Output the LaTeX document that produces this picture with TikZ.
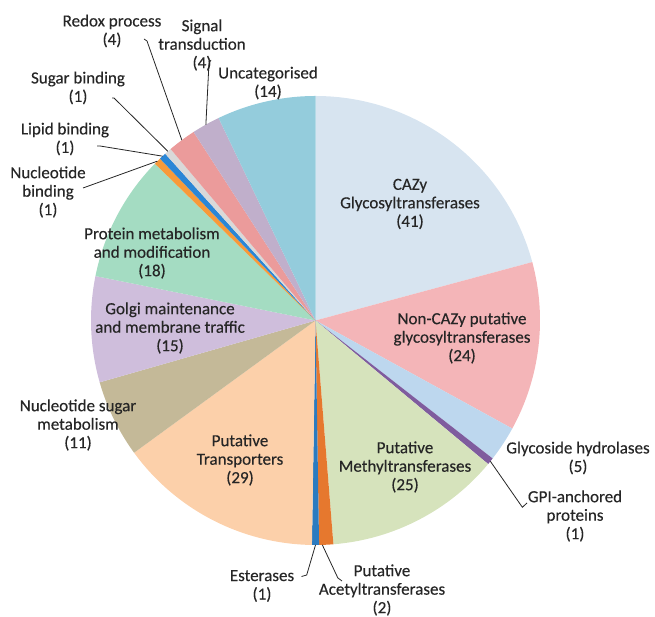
\documentclass[tikz,border=0pt]{standalone}
\usepackage{fontspec}
\setmainfont{Carlito}[FakeBold=0.3]
\usetikzlibrary{positioning}
\definecolor{cazyC}{HTML}{D7E4F0}
\definecolor{noncazyC}{HTML}{F4B5B8}
\definecolor{ghC}{HTML}{BDD7EE}
\definecolor{gpiC}{HTML}{7F5C9E}
\definecolor{methylC}{HTML}{D6E3BC}
\definecolor{acetylC}{HTML}{E6782E}
\definecolor{esterC}{HTML}{2B7BC0}
\definecolor{transpC}{HTML}{FCD0AA}
\definecolor{nsmC}{HTML}{C4B998}
\definecolor{golgiC}{HTML}{CFBEDC}
\definecolor{proteinC}{HTML}{A4DCC2}
\definecolor{nbC}{HTML}{F79A3A}
\definecolor{lbC}{HTML}{2A86D6}
\definecolor{sbC}{HTML}{D9D9D9}
\definecolor{redoxC}{HTML}{EB9B9B}
\definecolor{signalC}{HTML}{C0AFCB}
\definecolor{uncatC}{HTML}{94CCDC}
\newcommand{\pieR}{224.5}

\begin{document}
\begin{tikzpicture}[
    x=1pt, y=1pt,
    font=\fontsize{17}{18.5}\selectfont,
    lbl/.style={align=center, inner sep=0pt, text=black!85},
    leader/.style={draw=black!85, line width=0.8pt},
]
\useasboundingbox (0,0) rectangle (655,617);
\coordinate (c) at (315.5,296.5);

% slices, clockwise from 12 o'clock
\begin{scope}[shift={(c)}]
\foreach \s/\e/\col in {90/15.08/cazyC, 15.08/-28.78/noncazyC, -28.78/-37.92/ghC,
    -37.92/-39.75/gpiC, -39.75/-85.43/methylC, -85.43/-89.09/acetylC,
    -89.09/-90.91/esterC, -90.91/-143.91/transpC, -143.91/-164.01/nsmC,
    -164.01/-191.42/golgiC, -191.42/-224.31/proteinC, -224.31/-226.14/nbC,
    -226.14/-227.97/lbC, -227.97/-229.80/sbC, -229.80/-237.11/redoxC,
    -237.11/-244.42/signalC, -244.42/-270/uncatC}
  \fill[fill=\col] (0,0) -- (\s:\pieR) arc[start angle=\s, end angle=\e, radius=\pieR] -- cycle;
\end{scope}

% labels
\node[lbl] (cazy) at (410,413) {CAZy\\Glycosyltransferases\\(41)};
\node[lbl] (noncazy) at (462,279) {Non-CAZy putative\\glycosyltransferases\\(24)};
\node[lbl] (gh) at (578,159) {Glycoside hydrolases\\(5)};
\node[lbl] (gpi) at (575,101) {GPI-anchored\\proteins\\(1)};
\node[lbl] (methyl) at (405,150) {Putative\\Methyltransferases\\(25)};
\node[lbl] (acetyl) at (382,27) {Putative\\Acetyltransferases\\(2)};
\node[lbl] (ester) at (262,31) {Esterases\\(1)};
\node[lbl] (transp) at (240,157) {Putative\\Transporters\\(29)};
\node[lbl] (nsm) at (78,192) {Nucleotide sugar\\metabolism\\(11)};
\node[lbl] (golgi) at (170,289) {Golgi maintenance\\and membrane traffic\\(15)};
\node[lbl] (protein) at (152,364) {Protein metabolism\\and modification\\(18)};
\node[lbl] (nb) at (48,425) {Nucleotide\\binding\\(1)};
\node[lbl] (lb) at (65,478) {Lipid binding\\(1)};
\node[lbl] (sb) at (78,529) {Sugar binding\\(1)};
\node[lbl] (redox) at (112,586) {Redox process\\(4)};
\node[lbl] (signal) at (202,572) {Signal\\transduction\\(4)};
\node[lbl] (uncat) at (268,534) {Uncategorised\\(14)};

% leader ends on the rim
\coordinate (gpi-rim) at ([shift={(-38.84:\pieR)}]c);
\coordinate (acetyl-rim) at ([shift={(-88.26:\pieR)}]c);
\coordinate (ester-rim) at ([shift={(-90:\pieR)}]c);
\coordinate (nb-rim) at ([shift={(134.78:\pieR)}]c);
\coordinate (lb-rim) at ([shift={(132.95:\pieR)}]c);
\coordinate (sb-rim) at ([shift={(131.11:\pieR)}]c);
\coordinate (redox-rim) at ([shift={(126.54:\pieR)}]c);
\coordinate (signal-rim) at ([shift={(119.23:\pieR)}]c);
% leader ends at the labels
\coordinate (gpi-end) at (527,114);
\coordinate (acetyl-end) at (342,36);
\coordinate (ester-end) at (301.5,40.5);
\coordinate (nb-end) at (83,429);
\coordinate (lb-end) at (97,471);
\coordinate (sb-end) at (112,519);
\coordinate (redox-end) at (144,578);
\coordinate (signal-end) at (211,557);

\draw[leader] (gpi-rim) -- ++(32,-46) -- (gpi-end);
\draw[leader] (acetyl-rim) -- ++(15.5,-33) -- (acetyl-end);
\draw[leader] (ester-rim) -- ++(-8.8,-30) -- (ester-end);
\draw[leader] (nb-end) -- (nb-rim);
\draw[leader] (lb-end) -- ++(3,0) -- (lb-rim);
\draw[leader] (sb-end) -- ++(2,0) -- (sb-rim);
\draw[leader] (redox-end) -- ++(3,-2) -- (redox-rim);
\draw[leader] (signal-end) -- ++(-2,-3) -- (signal-rim);
\end{tikzpicture}
\end{document}
